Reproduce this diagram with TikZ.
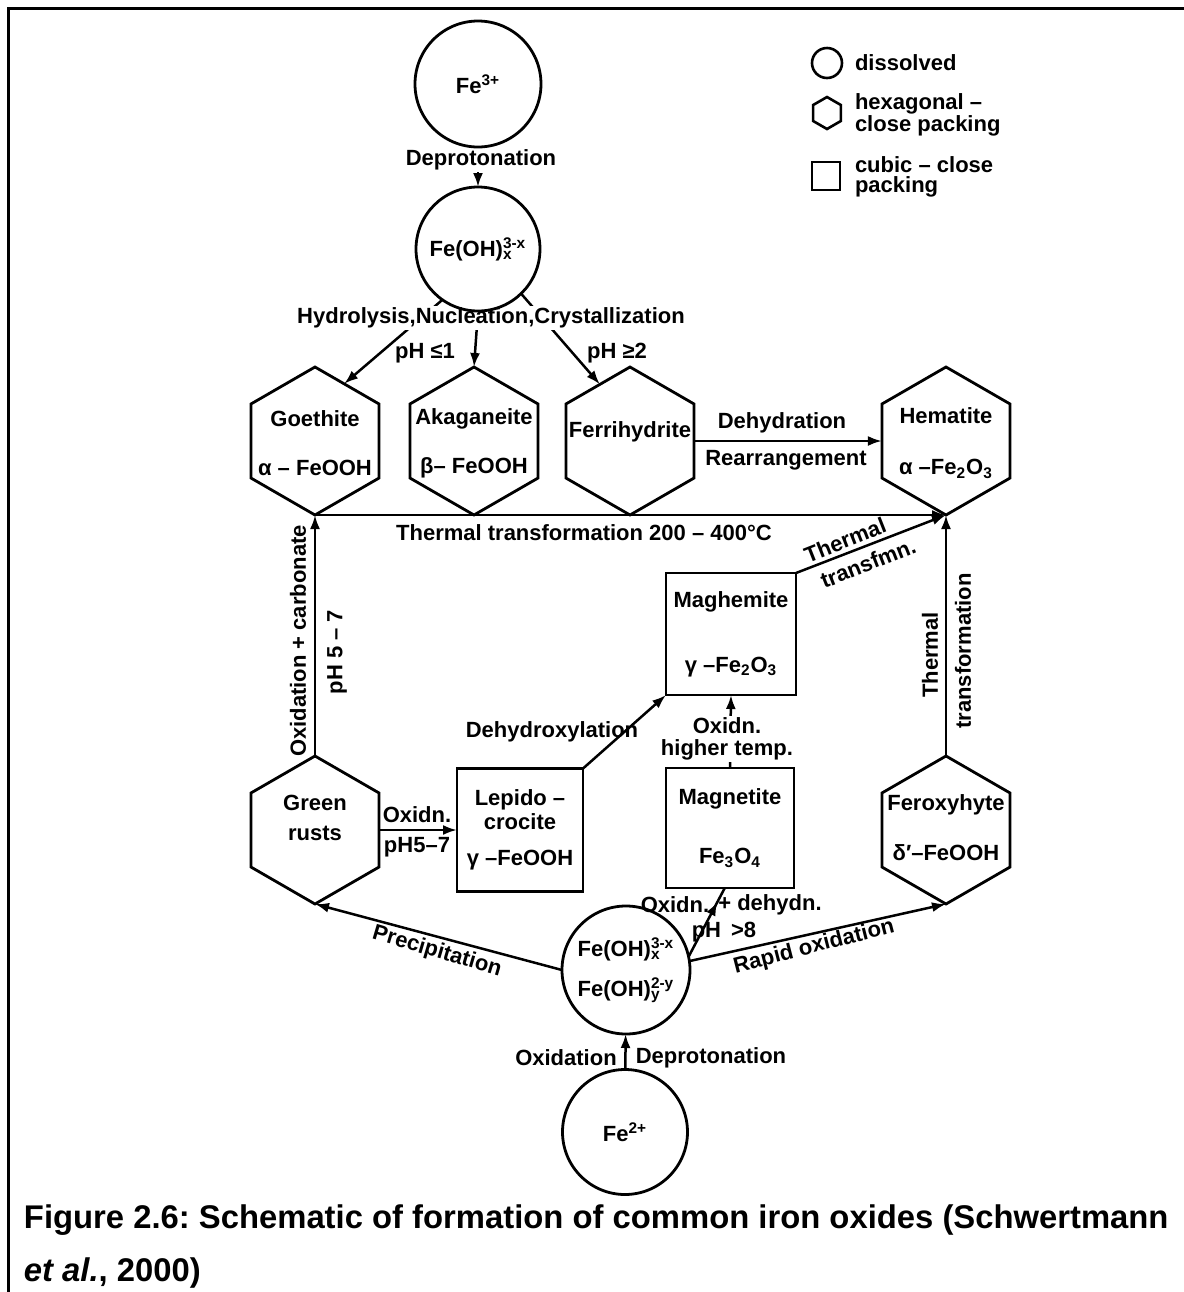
\documentclass[tikz,border=0pt]{standalone}
\usepackage{fontspec}
\setmainfont{Liberation Sans}
\usetikzlibrary{shapes.geometric,arrows.meta,decorations.markings}
\pgfdeclarelayer{bg}
\pgfdeclarelayer{labels}
\pgfsetlayers{bg,labels,main}
\frenchspacing
\newcommand\mysupsub[2]{\rlap{\textsubscript{#2}}\textsuperscript{#1}}
\newcommand\fs[1]{\bfseries\fontsize{11}{#1}\selectfont}
\begin{document}
\begin{tikzpicture}[x=0.5pt,y=-0.5pt,
  every node/.style={inner sep=0pt, outer sep=0pt, font=\fs{13}, text=black},
  shp/.style={draw, line width=1.4pt},
  circ/.style={shp, circle, align=center},
  hexa/.style={shp, regular polygon, regular polygon sides=6, shape border rotate=30, minimum size=74pt},
  box/.style={shp, rectangle, align=center},
  conn/.style={line width=1.25pt, -{Latex[length=7pt,width=5pt]}},
  plain/.style={line width=1.25pt},
  lab/.style={align=center},
  wlab/.style={fill=white, inner sep=1pt, align=center},
  midarrow/.style={postaction={decorate}, decoration={markings, mark=at position #1 with {\arrow{Latex[length=7pt,width=5pt]}}}},
]
\useasboundingbox (0,0) rectangle (1184,1292);
% frame
\draw[line width=1.5pt] (8,1292) -- (8,8) -- (1184,8);

% dissolved
\node[circ, minimum size=63pt] (fe3) at (478,84) {Fe\textsuperscript{3+}};
\node[circ, minimum size=62pt] (feoh) at (478,249) {Fe(OH)\mysupsub{3-x}{x}};
\node[circ, minimum size=64pt, font=\fs{20}] (bc) at (626,970) {Fe(OH)\mysupsub{3-x}{x}\\Fe(OH)\mysupsub{2-y}{y}};
\node[circ, minimum size=62.5pt] (fe2) at (625,1132) {Fe\textsuperscript{2+}};

% hexagonal
\node[hexa] (goe) at (315,441) {};
\node[lab, font=\fs{24.5}] (goeT) at (315,443) {Goethite\\α – FeOOH};
\node[hexa] (aka) at (474,441) {};
\node[lab, font=\fs{24.5}] (akaT) at (474,443) {Akaganeite\\β– FeOOH};
\node[hexa] (fer) at (630,441) {};
\node (ferT) at (630,432) {Ferrihydrite};
\node[hexa] (hem) at (946,441) {};
\node[lab, font=\fs{25.5}] (hemT) at (946,443) {Hematite\\α –Fe\textsubscript{2}O\textsubscript{3}};
\node[hexa] (gr) at (315,830) {};
\node[lab, font=\fs{15}] (grT) at (315,818) {Green\\rusts};
\node[hexa] (fx) at (946,830) {};
\node[lab, font=\fs{25}] (fxT) at (946,828) {Feroxyhyte\\δ′–FeOOH};

% cubic
\node[box, minimum width=63pt, minimum height=61.5pt, font=\fs{12}] (lep) at (520,830) {Lepido –\\crocite\\[6pt]γ –FeOOH};
\node[box, minimum width=65pt, minimum height=61pt, font=\fs{32.5}] (mgh) at (731,634) {Maghemite\\γ –Fe\textsubscript{2}O\textsubscript{3}};
\node[box, minimum width=64pt, minimum height=60pt, font=\fs{29.5}] (mgt) at (730,828) {Magnetite\\Fe\textsubscript{3}O\textsubscript{4}};

% connectors
\begin{pgfonlayer}{bg}
\draw[conn] (fe3) -- (feoh);
\draw[conn] (feoh.-125) -- (goe.63);
\draw[conn] (feoh.south) -- (aka.north);
\draw[conn] (feoh.-46) -- (fer.118);
\draw[conn] (fer.east) -- (hem.west);
\draw[conn] (goe.south) -- (hem.south);
\draw[conn] (gr.north) -- (goe.south);
\draw[conn] (gr.east) -- (lep.west);
\draw[conn] (lep.north east) -- (mgh.south west);
\draw[conn] (mgt.north) -- (mgh.south);
\draw[conn] (mgh.north east) -- (hem.south);
\draw[conn] (fx.north) -- (hem.south);
\draw[conn] (bc.west) -- (gr.south);
\draw[conn] (bc.8) -- (fx.south);
\draw[plain, midarrow=0.8] (bc.12) -- (mgt.-95);
\draw[conn] (fe2) -- (bc);
\end{pgfonlayer}

% labels with white background
\begin{pgfonlayer}{labels}
\node[wlab] (lDep) at (481,160) {Deprotonation};
\node[wlab] (lHyd) at (491,318) {Hydrolysis,Nucleation,Crystallization};
\node[wlab, font=\fs{11}] (lOxh) at (727,739) {Oxidn.\\higher temp.};
\end{pgfonlayer}

% other labels
\node (lph1) at (425,353) {pH ≤1};
\node (lph2) at (617,353) {pH ≥2};
\node (lDehy) at (782,423) {Dehydration};
\node (lRear) at (786,460) {Rearrangement};
\node (lTT) at (584,533) {Thermal transformation 200 – 400°C};
\node[rotate=90] (lOxc) at (298,641) {Oxidation + carbonate};
\node[rotate=90] (lph57) at (337,652) {pH 5 – 7};
\node (lOx1) at (417,815) {Oxidn.};
\node (lph57b) at (417,847) {pH5–7};
\node (lDhx) at (552,732) {Dehydroxylation};
\node[rotate=21.5] (lTh) at (845,540) {Thermal};
\node[rotate=21.5] (lTf) at (868,563) {transfmn.};
\node[rotate=90] (lTh2) at (930,655) {Thermal};
\node[rotate=90] (lTf2) at (963,651) {transformation};
\node (lOx2) at (675,905) {Oxidn.};
\node (lDhd) at (770,905) {+ dehydn.};
\node (lph8) at (724,932) {pH\hspace{5pt}>8};
\node[rotate=-16.4] (lPre) at (437,952) {Precipitation};
\node[rotate=14.4] (lRap) at (814,947) {Rapid oxidation};
\node (lOx3) at (566,1058) {Oxidation};
\node (lDep2) at (711,1058) {Deprotonation};

% legend
\node[circ, line width=1.3pt, minimum size=15pt] (legC) at (827,63) {};
\node[anchor=west] (legCT) at (855,63) {dissolved};
\node[hexa, line width=1.3pt, minimum size=16pt] (legH) at (827,113) {};
\node[anchor=west, align=left, font=\fs{10}] (legHT) at (855,115) {hexagonal –\\close packing};
\node[box, line width=1.3pt, minimum size=14pt] (legS) at (826,176) {};
\node[anchor=west, align=left, font=\fs{10}] (legST) at (855,177) {cubic – close\\packing};

% caption
\node[anchor=west, font=\bfseries\fontsize{16.4}{20}\selectfont] (cap1) at (24,1220) {Figure 2.6: Schematic of formation of common iron oxides (Schwertmann};
\node[anchor=west, font=\bfseries\fontsize{16.4}{20}\selectfont] (cap2) at (24,1273) {\textit{et al.}, 2000)};
\end{tikzpicture}
\end{document}
